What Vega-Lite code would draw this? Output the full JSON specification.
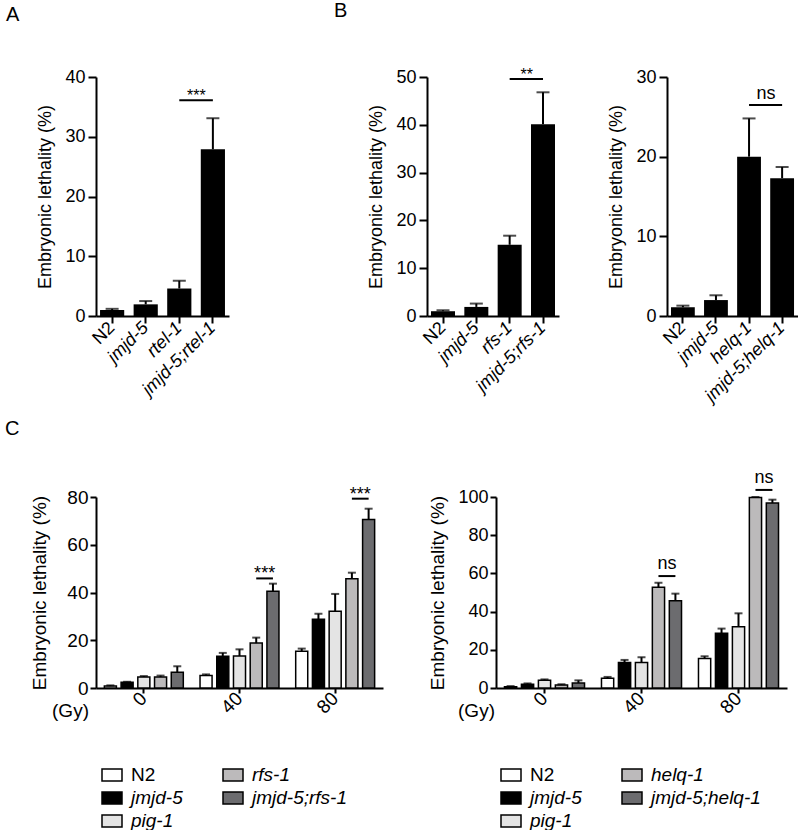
{
  "$schema": "https://vega.github.io/schema/vega-lite/v6.json",
  "background": "white",
  "padding": {"left": 5, "top": 0, "right": 0, "bottom": 0},
  "autosize": {"type": "pad"},
  "config": {
    "font": "Liberation Sans",
    "view": {"stroke": null},
    "axis": {"domainColor": "black", "domainWidth": 2, "tickColor": "black", "tickWidth": 2, "labelColor": "black", "titleColor": "black", "titleFontWeight": "normal", "grid": false, "labelFont": "Liberation Sans", "titleFont": "Liberation Sans", "labelOverlap": false},
    "title": {"font": "Liberation Sans", "fontWeight": "normal", "fontSize": 20, "anchor": "start", "color": "black", "baseline": "alphabetic", "frame": "group"},
    "text": {"font": "Liberation Sans", "color": "black"}
  },
  "datasets": {
    "A": [
      {"strain": "N2", "value": 1.0, "hi": 1.2},
      {"strain": "jmjd-5", "value": 1.95, "hi": 2.5},
      {"strain": "rtel-1", "value": 4.6, "hi": 5.9},
      {"strain": "jmjd-5;rtel-1", "value": 27.9, "hi": 33.1}
    ],
    "sigA": [{"s1": "rtel-1", "s2": "jmjd-5;rtel-1", "value": 36.1, "label": "***"}],
    "B1": [
      {"strain": "N2", "value": 1.0, "hi": 1.2},
      {"strain": "jmjd-5", "value": 1.9, "hi": 2.6},
      {"strain": "rfs-1", "value": 14.9, "hi": 16.8},
      {"strain": "jmjd-5;rfs-1", "value": 40.1, "hi": 46.8}
    ],
    "sigB1": [{"s1": "rfs-1", "s2": "jmjd-5;rfs-1", "value": 49.6, "label": "**"}],
    "B2": [
      {"strain": "N2", "value": 1.1, "hi": 1.3},
      {"strain": "jmjd-5", "value": 2.0, "hi": 2.6},
      {"strain": "helq-1", "value": 20.0, "hi": 24.8},
      {"strain": "jmjd-5;helq-1", "value": 17.3, "hi": 18.7}
    ],
    "sigB2": [{"s1": "helq-1", "s2": "jmjd-5;helq-1", "value": 26.5, "label": "ns"}],
    "C1": [
      {"dose": "0", "strain": "N2", "value": 0.8, "hi": 1.1},
      {"dose": "0", "strain": "jmjd-5", "value": 2.4, "hi": 2.6},
      {"dose": "0", "strain": "pig-1", "value": 4.6, "hi": 5.0},
      {"dose": "0", "strain": "rfs-1", "value": 4.6, "hi": 5.2},
      {"dose": "0", "strain": "jmjd-5;rfs-1", "value": 6.6, "hi": 9.1},
      {"dose": "40", "strain": "N2", "value": 5.2, "hi": 5.7},
      {"dose": "40", "strain": "jmjd-5", "value": 13.3, "hi": 14.7},
      {"dose": "40", "strain": "pig-1", "value": 13.4, "hi": 16.2},
      {"dose": "40", "strain": "rfs-1", "value": 18.8, "hi": 21.1},
      {"dose": "40", "strain": "jmjd-5;rfs-1", "value": 40.5, "hi": 43.7},
      {"dose": "80", "strain": "N2", "value": 15.4, "hi": 16.5},
      {"dose": "80", "strain": "jmjd-5", "value": 28.8, "hi": 31.1},
      {"dose": "80", "strain": "pig-1", "value": 32.1, "hi": 39.4},
      {"dose": "80", "strain": "rfs-1", "value": 45.8, "hi": 48.3},
      {"dose": "80", "strain": "jmjd-5;rfs-1", "value": 70.6, "hi": 75.1}
    ],
    "sigC1": [
      {"dose": "40", "strain": "rfs-1", "value": 45.9, "grp": "a"},
      {"dose": "40", "strain": "jmjd-5;rfs-1", "value": 45.9, "grp": "a"},
      {"dose": "80", "strain": "rfs-1", "value": 79.3, "grp": "b"},
      {"dose": "80", "strain": "jmjd-5;rfs-1", "value": 79.3, "grp": "b"}
    ],
    "sigC1t": [
      {"dose": "40", "strain": "rfs-1", "value": 45.9, "label": "***"},
      {"dose": "80", "strain": "rfs-1", "value": 79.3, "label": "***"}
    ],
    "C2": [
      {"dose": "0", "strain": "N2", "value": 0.7, "hi": 1.0},
      {"dose": "0", "strain": "jmjd-5", "value": 1.9, "hi": 2.4},
      {"dose": "0", "strain": "pig-1", "value": 4.0, "hi": 4.5},
      {"dose": "0", "strain": "helq-1", "value": 1.6, "hi": 1.9},
      {"dose": "0", "strain": "jmjd-5;helq-1", "value": 2.6, "hi": 4.0},
      {"dose": "40", "strain": "N2", "value": 5.1, "hi": 5.8},
      {"dose": "40", "strain": "jmjd-5", "value": 13.3, "hi": 14.7},
      {"dose": "40", "strain": "pig-1", "value": 13.4, "hi": 16.1},
      {"dose": "40", "strain": "helq-1", "value": 52.7, "hi": 55.1},
      {"dose": "40", "strain": "jmjd-5;helq-1", "value": 45.7, "hi": 49.4},
      {"dose": "80", "strain": "N2", "value": 15.5, "hi": 16.6},
      {"dose": "80", "strain": "jmjd-5", "value": 28.6, "hi": 31.1},
      {"dose": "80", "strain": "pig-1", "value": 32.1, "hi": 39.1},
      {"dose": "80", "strain": "helq-1", "value": 99.7, "hi": 100},
      {"dose": "80", "strain": "jmjd-5;helq-1", "value": 96.9, "hi": 98.6}
    ],
    "sigC2": [
      {"dose": "40", "strain": "helq-1", "value": 58.6, "grp": "a"},
      {"dose": "40", "strain": "jmjd-5;helq-1", "value": 58.6, "grp": "a"},
      {"dose": "80", "strain": "helq-1", "value": 103.7, "grp": "b"},
      {"dose": "80", "strain": "jmjd-5;helq-1", "value": 103.7, "grp": "b"}
    ],
    "sigC2t": [
      {"dose": "40", "strain": "helq-1", "value": 58.6, "label": "ns"},
      {"dose": "80", "strain": "helq-1", "value": 103.7, "label": "ns"}
    ]
  },
  "spacing": 13,
  "vconcat": [
    {
      "bounds": "flush",
      "spacing": 198,
      "hconcat": [
        {
          "width": 133, "height": 239,
          "title": {"text": "A", "dx": -90, "offset": 43},
          "layer": [
            {"data": {"name": "A"}, "mark": {"type": "bar", "color": "black"},
             "encoding": {
               "x": {"field": "strain", "type": "nominal", "title": null, "scale": {"domain": ["N2", "jmjd-5", "rtel-1", "jmjd-5;rtel-1"], "paddingInner": 0.28, "paddingOuter": 0.12},
                     "axis": {"labelAngle": -45, "labelAlign": "right", "labelBaseline": "middle", "labelFontSize": 18, "tickSize": 7, "labelPadding": 2, "labelFontStyle": {"condition": {"test": "datum.value == 'N2'", "value": "normal"}, "value": "italic"}}},
               "y": {"field": "value", "type": "quantitative", "title": "Embryonic lethality (%)", "scale": {"domain": [0, 40], "nice": false},
                     "axis": {"values": [0, 10, 20, 30, 40], "tickCount": 20, "tickSize": 8, "labelPadding": 3, "labelFontSize": 18, "titleFontSize": 18, "titlePadding": 10}}
             }},
            {"data": {"name": "A"}, "mark": {"type": "rule", "color": "black", "strokeWidth": 2},
             "encoding": {"x": {"field": "strain", "type": "nominal", "title": null}, "y": {"field": "value", "type": "quantitative", "title": "Embryonic lethality (%)"}, "y2": {"field": "hi"}}},
            {"data": {"name": "A"}, "mark": {"type": "tick", "color": "black", "size": 13, "thickness": 2},
             "encoding": {"x": {"field": "strain", "type": "nominal", "title": null}, "y": {"field": "hi", "type": "quantitative", "title": "Embryonic lethality (%)"}}},
            {"data": {"name": "sigA"}, "mark": {"type": "rule", "color": "black", "strokeWidth": 2},
             "encoding": {"x": {"field": "s1", "type": "nominal", "title": null}, "x2": {"field": "s2"}, "y": {"field": "value", "type": "quantitative", "title": "Embryonic lethality (%)"}}},
            {"data": {"name": "sigA"}, "mark": {"type": "text", "fontSize": 16, "dx": 17, "dy": 1, "baseline": "alphabetic", "align": "center"},
             "encoding": {"x": {"field": "s1", "type": "nominal", "title": null}, "y": {"field": "value", "type": "quantitative", "title": "Embryonic lethality (%)"}, "text": {"field": "label"}}}
          ]
        },
        {
          "bounds": "flush",
          "spacing": 108,
          "hconcat": [
            {
              "width": 132, "height": 239,
              "title": {"text": "B", "dx": -93, "offset": 46},
              "layer": [
                {"data": {"name": "B1"}, "mark": {"type": "bar", "color": "black"},
                 "encoding": {
                   "x": {"field": "strain", "type": "nominal", "title": null, "scale": {"domain": ["N2", "jmjd-5", "rfs-1", "jmjd-5;rfs-1"], "paddingInner": 0.28, "paddingOuter": 0.12},
                         "axis": {"labelAngle": -45, "labelAlign": "right", "labelBaseline": "middle", "labelFontSize": 18, "tickSize": 7, "labelPadding": 2, "labelFontStyle": {"condition": {"test": "datum.value == 'N2'", "value": "normal"}, "value": "italic"}}},
                   "y": {"field": "value", "type": "quantitative", "title": "Embryonic lethality (%)", "scale": {"domain": [0, 50], "nice": false},
                         "axis": {"values": [0, 10, 20, 30, 40, 50], "tickCount": 20, "tickSize": 8, "labelPadding": 3, "labelFontSize": 18, "titleFontSize": 18, "titlePadding": 10}}
                 }},
                {"data": {"name": "B1"}, "mark": {"type": "rule", "color": "black", "strokeWidth": 2},
                 "encoding": {"x": {"field": "strain", "type": "nominal", "title": null}, "y": {"field": "value", "type": "quantitative", "title": "Embryonic lethality (%)"}, "y2": {"field": "hi"}}},
                {"data": {"name": "B1"}, "mark": {"type": "tick", "color": "black", "size": 13, "thickness": 2},
                 "encoding": {"x": {"field": "strain", "type": "nominal", "title": null}, "y": {"field": "hi", "type": "quantitative", "title": "Embryonic lethality (%)"}}},
                {"data": {"name": "sigB1"}, "mark": {"type": "rule", "color": "black", "strokeWidth": 2},
                 "encoding": {"x": {"field": "s1", "type": "nominal", "title": null}, "x2": {"field": "s2"}, "y": {"field": "value", "type": "quantitative", "title": "Embryonic lethality (%)"}}},
                {"data": {"name": "sigB1"}, "mark": {"type": "text", "fontSize": 16, "dx": 17, "dy": 1, "baseline": "alphabetic", "align": "center"},
                 "encoding": {"x": {"field": "s1", "type": "nominal", "title": null}, "y": {"field": "value", "type": "quantitative", "title": "Embryonic lethality (%)"}, "text": {"field": "label"}}}
              ]
            },
            {
              "width": 131, "height": 239,
              "layer": [
                {"data": {"name": "B2"}, "mark": {"type": "bar", "color": "black"},
                 "encoding": {
                   "x": {"field": "strain", "type": "nominal", "title": null, "scale": {"domain": ["N2", "jmjd-5", "helq-1", "jmjd-5;helq-1"], "paddingInner": 0.28, "paddingOuter": 0.12},
                         "axis": {"labelAngle": -45, "labelAlign": "right", "labelBaseline": "middle", "labelFontSize": 18, "tickSize": 7, "labelPadding": 2, "labelFontStyle": {"condition": {"test": "datum.value == 'N2'", "value": "normal"}, "value": "italic"}}},
                   "y": {"field": "value", "type": "quantitative", "title": "Embryonic lethality (%)", "scale": {"domain": [0, 30], "nice": false},
                         "axis": {"values": [0, 10, 20, 30], "tickCount": 20, "tickSize": 8, "labelPadding": 3, "labelFontSize": 18, "titleFontSize": 18, "titlePadding": 10}}
                 }},
                {"data": {"name": "B2"}, "mark": {"type": "rule", "color": "black", "strokeWidth": 2},
                 "encoding": {"x": {"field": "strain", "type": "nominal", "title": null}, "y": {"field": "value", "type": "quantitative", "title": "Embryonic lethality (%)"}, "y2": {"field": "hi"}}},
                {"data": {"name": "B2"}, "mark": {"type": "tick", "color": "black", "size": 13, "thickness": 2},
                 "encoding": {"x": {"field": "strain", "type": "nominal", "title": null}, "y": {"field": "hi", "type": "quantitative", "title": "Embryonic lethality (%)"}}},
                {"data": {"name": "sigB2"}, "mark": {"type": "rule", "color": "black", "strokeWidth": 2},
                 "encoding": {"x": {"field": "s1", "type": "nominal", "title": null}, "x2": {"field": "s2"}, "y": {"field": "value", "type": "quantitative", "title": "Embryonic lethality (%)"}}},
                {"data": {"name": "sigB2"}, "mark": {"type": "text", "fontSize": 18, "dx": 17, "dy": -6, "baseline": "alphabetic", "align": "center"},
                 "encoding": {"x": {"field": "s1", "type": "nominal", "title": null}, "y": {"field": "value", "type": "quantitative", "title": "Embryonic lethality (%)"}, "text": {"field": "label"}}}
              ]
            }
          ]
        }
      ]
    },
    {
      "bounds": "flush",
      "spacing": 113,
      "resolve": {"scale": {"fill": "independent", "xOffset": "independent", "x": "independent", "y": "independent"}, "legend": {"fill": "independent"}},
      "hconcat": [
        {
          "width": 287, "height": 191,
          "title": {"text": "C", "dx": -91, "offset": 47},
          "layer": [
            {"data": {"name": "C1"}, "mark": {"type": "bar", "stroke": "black", "strokeWidth": 1.5},
             "encoding": {
               "x": {"field": "dose", "type": "nominal", "title": "(Gy)", "scale": {"domain": ["0", "40", "80"], "paddingInner": 0, "paddingOuter": 0},
                     "axis": {"titleX": -26, "titleY": 22, "titleAlign": "center", "titleBaseline": "middle", "titleAngle": 0, "titleFontSize": 19, "labelAngle": -45, "labelAlign": "right", "labelBaseline": "middle", "labelFontSize": 19, "tickSize": 5, "labelPadding": 2}},
               "xOffset": {"field": "strain", "type": "nominal", "scale": {"domain": ["N2", "jmjd-5", "pig-1", "rfs-1", "jmjd-5;rfs-1"], "paddingInner": 0.28, "paddingOuter": 0.5}},
               "y": {"field": "value", "type": "quantitative", "title": "Embryonic lethality (%)", "scale": {"domain": [0, 80], "nice": false},
                     "axis": {"values": [0, 20, 40, 60, 80], "tickCount": 20, "tickSize": 6, "labelPadding": 2, "labelFontSize": 19, "titleFontSize": 19, "titlePadding": 17}},
               "fill": {"field": "strain", "type": "nominal",
                        "scale": {"domain": ["N2", "jmjd-5", "pig-1", "rfs-1", "jmjd-5;rfs-1"], "range": ["#ffffff", "#000000", "#e4e4e4", "#bcbabb", "#6c6c6f"]},
                        "legend": {"orient": "none", "legendX": 5, "legendY": 267, "columns": 2, "title": null, "symbolType": "M-1,-0.6H1V0.6H-1Z", "symbolSize": 400, "symbolStrokeColor": "black", "symbolStrokeWidth": 1.5, "labelFontSize": 19, "labelColor": "black", "labelFont": "Liberation Sans", "labelOffset": 8, "rowPadding": 2, "columnPadding": 37, "labelFontStyle": {"expr": "datum.value == 'N2' ? 'normal' : 'italic'"}}}
             }},
            {"data": {"name": "C1"}, "mark": {"type": "rule", "color": "black", "strokeWidth": 2},
             "encoding": {"x": {"field": "dose", "type": "nominal", "title": "(Gy)"}, "xOffset": {"field": "strain", "type": "nominal"}, "y": {"field": "value", "type": "quantitative", "title": "Embryonic lethality (%)"}, "y2": {"field": "hi"}}},
            {"data": {"name": "C1"}, "mark": {"type": "tick", "color": "black", "size": 8, "thickness": 2},
             "encoding": {"x": {"field": "dose", "type": "nominal", "title": "(Gy)"}, "xOffset": {"field": "strain", "type": "nominal"}, "y": {"field": "hi", "type": "quantitative", "title": "Embryonic lethality (%)"}}},
            {"data": {"name": "sigC1"}, "mark": {"type": "line", "color": "black", "strokeWidth": 2},
             "encoding": {"x": {"field": "dose", "type": "nominal", "title": "(Gy)"}, "xOffset": {"field": "strain", "type": "nominal"}, "y": {"field": "value", "type": "quantitative", "title": "Embryonic lethality (%)"}, "detail": {"field": "grp"}}},
            {"data": {"name": "sigC1t"}, "mark": {"type": "text", "fontSize": 18, "dx": 8.4, "dy": 1, "baseline": "alphabetic", "align": "center"},
             "encoding": {"x": {"field": "dose", "type": "nominal", "title": "(Gy)"}, "xOffset": {"field": "strain", "type": "nominal"}, "y": {"field": "value", "type": "quantitative", "title": "Embryonic lethality (%)"}, "text": {"field": "label"}}}
          ]
        },
        {
          "width": 291, "height": 191,
          "layer": [
            {"data": {"name": "C2"}, "mark": {"type": "bar", "stroke": "black", "strokeWidth": 1.5},
             "encoding": {
               "x": {"field": "dose", "type": "nominal", "title": "(Gy)", "scale": {"domain": ["0", "40", "80"], "paddingInner": 0, "paddingOuter": 0},
                     "axis": {"titleX": -20, "titleY": 22, "titleAlign": "center", "titleBaseline": "middle", "titleAngle": 0, "titleFontSize": 19, "labelAngle": -45, "labelAlign": "right", "labelBaseline": "middle", "labelFontSize": 19, "tickSize": 5, "labelPadding": 2}},
               "xOffset": {"field": "strain", "type": "nominal", "scale": {"domain": ["N2", "jmjd-5", "pig-1", "helq-1", "jmjd-5;helq-1"], "paddingInner": 0.28, "paddingOuter": 0.5}},
               "y": {"field": "value", "type": "quantitative", "title": "Embryonic lethality (%)", "scale": {"domain": [0, 100], "nice": false},
                     "axis": {"values": [0, 20, 40, 60, 80, 100], "tickCount": 20, "tickSize": 6, "labelPadding": 2, "labelFontSize": 18, "titleFontSize": 19, "titlePadding": 10}},
               "fill": {"field": "strain", "type": "nominal",
                        "scale": {"domain": ["N2", "jmjd-5", "pig-1", "helq-1", "jmjd-5;helq-1"], "range": ["#ffffff", "#000000", "#e4e4e4", "#bcbabb", "#6c6c6f"]},
                        "legend": {"orient": "none", "legendX": 4, "legendY": 267, "columns": 2, "title": null, "symbolType": "M-1,-0.6H1V0.6H-1Z", "symbolSize": 400, "symbolStrokeColor": "black", "symbolStrokeWidth": 1.5, "labelFontSize": 19, "labelColor": "black", "labelFont": "Liberation Sans", "labelOffset": 8, "rowPadding": 2, "columnPadding": 37, "labelFontStyle": {"expr": "datum.value == 'N2' ? 'normal' : 'italic'"}}}
             }},
            {"data": {"name": "C2"}, "mark": {"type": "rule", "color": "black", "strokeWidth": 2},
             "encoding": {"x": {"field": "dose", "type": "nominal", "title": "(Gy)"}, "xOffset": {"field": "strain", "type": "nominal"}, "y": {"field": "value", "type": "quantitative", "title": "Embryonic lethality (%)"}, "y2": {"field": "hi"}}},
            {"data": {"name": "C2"}, "mark": {"type": "tick", "color": "black", "size": 8, "thickness": 2},
             "encoding": {"x": {"field": "dose", "type": "nominal", "title": "(Gy)"}, "xOffset": {"field": "strain", "type": "nominal"}, "y": {"field": "hi", "type": "quantitative", "title": "Embryonic lethality (%)"}}},
            {"data": {"name": "sigC2"}, "mark": {"type": "line", "color": "black", "strokeWidth": 2},
             "encoding": {"x": {"field": "dose", "type": "nominal", "title": "(Gy)"}, "xOffset": {"field": "strain", "type": "nominal"}, "y": {"field": "value", "type": "quantitative", "title": "Embryonic lethality (%)"}, "detail": {"field": "grp"}}},
            {"data": {"name": "sigC2t"}, "mark": {"type": "text", "fontSize": 18, "dx": 8.5, "dy": -7, "baseline": "alphabetic", "align": "center"},
             "encoding": {"x": {"field": "dose", "type": "nominal", "title": "(Gy)"}, "xOffset": {"field": "strain", "type": "nominal"}, "y": {"field": "value", "type": "quantitative", "title": "Embryonic lethality (%)"}, "text": {"field": "label"}}}
          ]
        }
      ]
    }
  ]
}
